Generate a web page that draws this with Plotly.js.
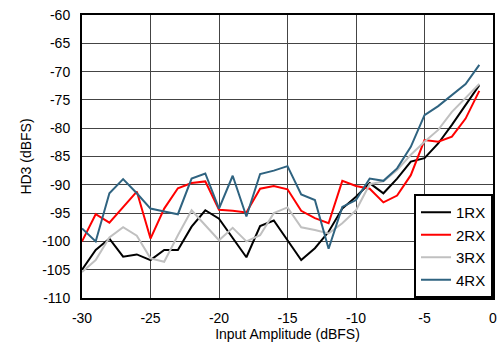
<!DOCTYPE html>
<html>
<head>
<meta charset="utf-8">
<script src="https://cdn.plot.ly/plotly-3.0.1.min.js"></script>
<style>html,body{margin:0;padding:0;background:#fff;}#chart{width:500px;height:343px;}</style>
</head>
<body>
<div id="chart"></div>
<script>
const inputAmp = [-30,-29,-28,-27,-26,-25,-24,-23,-22,-21,-20,-19,-18,-17,-16,-15,-14,-13,-12,-11,-10,-9,-8,-7,-6,-5,-4,-3,-2,-1];
const hd3_1RX = [-105,-101.5,-99.5,-102.7,-102.3,-103.3,-101.5,-101.5,-97.4,-94.5,-96,-99.5,-102.8,-97.3,-96.3,-99.8,-103.3,-101.2,-98.3,-94.2,-92.1,-89.7,-91.5,-88.9,-85.9,-85.3,-82.7,-79.4,-75.9,-72.4];
const hd3_2RX = [-100,-95.2,-96.7,-93.9,-91.2,-99.5,-94.2,-90.6,-89.7,-89.4,-94.4,-94.6,-94.9,-90.7,-90.2,-90.8,-94.6,-95.9,-96.8,-89.3,-90.2,-90.7,-93.1,-91.9,-88.3,-82.1,-82.4,-81.5,-78.3,-73.4];
const hd3_3RX = [-105.4,-103.3,-99.3,-97.5,-99.0,-103,-103.6,-98.9,-94.5,-97.1,-99.8,-97.6,-100,-98.9,-95,-94,-97.5,-98,-98.6,-96.8,-94.5,-89.9,-89.4,-87.4,-84.7,-82.4,-80.3,-77.1,-74.7,-72.2];
const hd3_4RX = [-97.7,-100,-91.5,-89,-91.5,-94.2,-94.7,-95.2,-88.9,-88,-94.2,-88.4,-95.6,-88.1,-87.5,-86.7,-91.7,-92.7,-101.3,-93.9,-92.7,-88.9,-89.3,-87.1,-83.3,-77.7,-76.1,-74.1,-72.2,-68.8];
const seriesNames = ['1RX','2RX','3RX','4RX'];
const seriesColors = ['#000000','#ff0000','#c0c0c0','#2f6380'];
const seriesData = [hd3_1RX, hd3_2RX, hd3_3RX, hd3_4RX];
const xTicks = [-30,-25,-20,-15,-10,-5,0];
const xTickLabels = ['-30','-25','-20','-15','-10','-5','0'];
const yTicks = [-110,-105,-100,-95,-90,-85,-80,-75,-70,-65,-60];
const yTickLabels = ['-110','-105','-100','-95','-90','-85','-80','-75','-70','-65','-60'];

const traces = seriesData.map((ys, i) => ({
  x: inputAmp, y: ys, type: 'scatter', mode: 'lines', name: seriesNames[i],
  line: {color: seriesColors[i], width: 2}
}));

const fontFam = '"Liberation Sans", Arial, Helvetica, sans-serif';
const layout = {
  width: 500, height: 343,
  margin: {l: 82, r: 7, t: 15, b: 45},
  paper_bgcolor: '#fff', plot_bgcolor: '#fff',
  font: {family: fontFam, size: 14, color: '#000'},
  showlegend: true,
  legend: {x: 1, y: 0, xanchor: 'right', yanchor: 'bottom', bgcolor: '#fff',
    bordercolor: '#000', borderwidth: 2, font: {family: fontFam, size: 15},
    itemwidth: 30, tracegroupgap: 0},
  xaxis: {range: [-30, 0], tickvals: xTicks, ticktext: xTickLabels, showgrid: true,
    gridcolor: '#444', gridwidth: 1, zeroline: false, showline: true, mirror: true,
    linecolor: '#000', linewidth: 2, ticks: 'outside', ticklen: 6, tickcolor: 'rgba(0,0,0,0)',
    title: {text: 'Input Amplitude (dBFS)', standoff: 1, font: {size: 14}}},
  yaxis: {range: [-110, -60], tickvals: yTicks, ticktext: yTickLabels,
    showgrid: true, gridcolor: '#444', gridwidth: 1, zeroline: false, showline: true, mirror: true,
    linecolor: '#000', linewidth: 2, ticks: 'outside', ticklen: 7, tickcolor: 'rgba(0,0,0,0)',
    title: {text: 'HD3 (dBFS)', standoff: 7, font: {size: 14}}}
};
Plotly.newPlot('chart', traces, layout, {displayModeBar: false, staticPlot: true});
</script>
</body>
</html>
